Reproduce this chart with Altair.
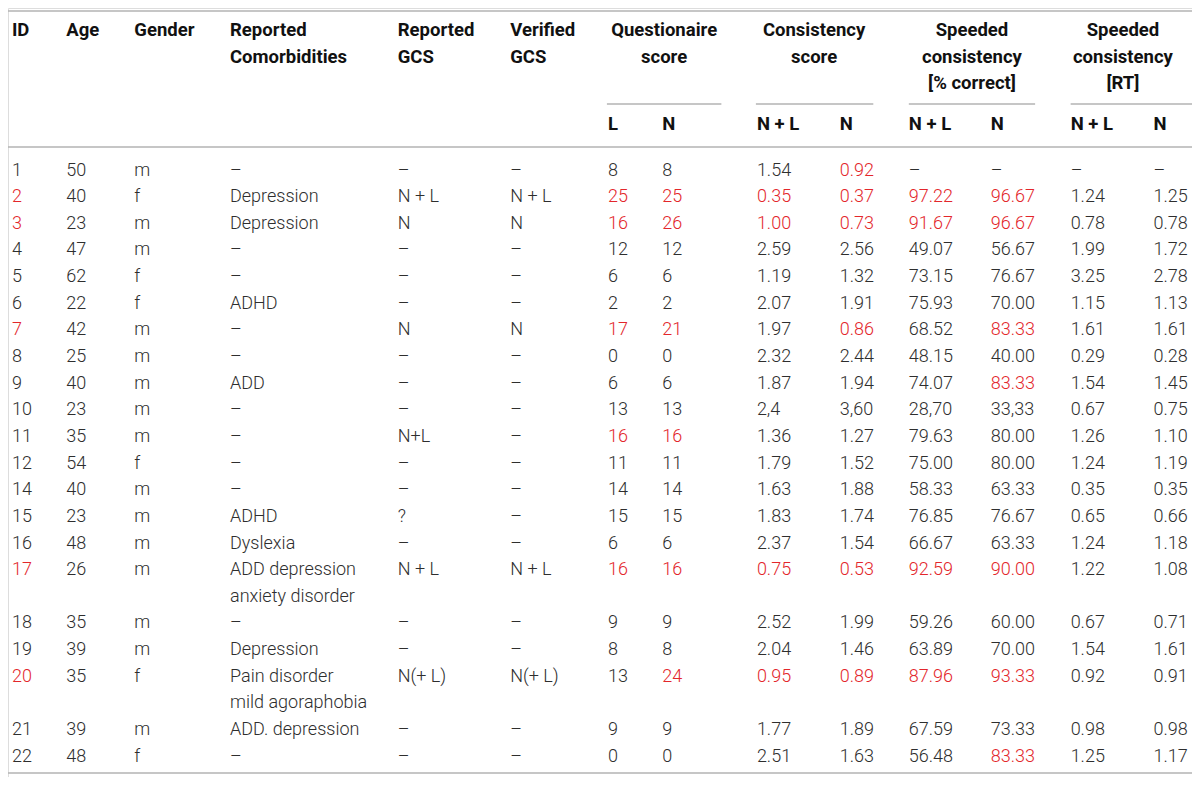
import altair as alt
import pandas as pd

# ---------------- data ----------------
ids = ["1", "2", "3", "4", "5", "6", "7", "8", "9", "10", "11", "12", "14", "15", "16",
       "17", "18", "19", "20", "21", "22"]
ages = ["50", "40", "23", "47", "62", "22", "42", "25", "40", "23", "35", "54", "40", "23",
        "48", "26", "35", "39", "35", "39", "48"]
genders = ["m", "f", "m", "m", "f", "f", "m", "m", "m", "m", "m", "f", "m", "m", "m", "m",
           "m", "m", "f", "m", "f"]
comorbidities = ["–", "Depression", "Depression", "–", "–", "ADHD", "–", "–", "ADD", "–", "–",
                 "–", "–", "ADHD", "Dyslexia", "ADD depression\nanxiety disorder", "–",
                 "Depression", "Pain disorder\nmild agoraphobia", "ADD. depression", "–"]
reported_gcs = ["–", "N + L", "N", "–", "–", "–", "N", "–", "–", "–", "N+L", "–", "–", "?",
                "–", "N + L", "–", "–", "N(+ L)", "–", "–"]
verified_gcs = ["–", "N + L", "N", "–", "–", "–", "N", "–", "–", "–", "–", "–", "–", "–",
                "–", "N + L", "–", "–", "N(+ L)", "–", "–"]
quest_L = ["8", "25", "16", "12", "6", "2", "17", "0", "6", "13", "16", "11", "14", "15", "6",
           "16", "9", "8", "13", "9", "0"]
quest_N = ["8", "25", "26", "12", "6", "2", "21", "0", "6", "13", "16", "11", "14", "15", "6",
           "16", "9", "8", "24", "9", "0"]
cons_NL = ["1.54", "0.35", "1.00", "2.59", "1.19", "2.07", "1.97", "2.32", "1.87", "2,4",
           "1.36", "1.79", "1.63", "1.83", "2.37", "0.75", "2.52", "2.04", "0.95", "1.77", "2.51"]
cons_N = ["0.92", "0.37", "0.73", "2.56", "1.32", "1.91", "0.86", "2.44", "1.94", "3,60",
          "1.27", "1.52", "1.88", "1.74", "1.54", "0.53", "1.99", "1.46", "0.89", "1.89", "1.63"]
pct_NL = ["–", "97.22", "91.67", "49.07", "73.15", "75.93", "68.52", "48.15", "74.07", "28,70",
          "79.63", "75.00", "58.33", "76.85", "66.67", "92.59", "59.26", "63.89", "87.96",
          "67.59", "56.48"]
pct_N = ["–", "96.67", "96.67", "56.67", "76.67", "70.00", "83.33", "40.00", "83.33", "33,33",
         "80.00", "80.00", "63.33", "76.67", "63.33", "90.00", "60.00", "70.00", "93.33",
         "73.33", "83.33"]
rt_NL = ["–", "1.24", "0.78", "1.99", "3.25", "1.15", "1.61", "0.29", "1.54", "0.67", "1.26",
         "1.24", "0.35", "0.65", "1.24", "1.22", "0.67", "1.54", "0.92", "0.98", "1.25"]
rt_N = ["–", "1.25", "0.78", "1.72", "2.78", "1.13", "1.61", "0.28", "1.45", "0.75", "1.10",
        "1.19", "0.35", "0.66", "1.18", "1.08", "0.71", "1.61", "0.91", "0.98", "1.17"]

# cells printed in red: column -> list of participant IDs
red_cells = {
    "id": ["2", "3", "7", "17", "20"],
    "qL": ["2", "3", "7", "11", "17"],
    "qN": ["2", "3", "7", "11", "17", "20"],
    "cNL": ["2", "3", "17", "20"],
    "cN": ["1", "2", "3", "7", "17", "20"],
    "pNL": ["2", "3", "17", "20"],
    "pN": ["2", "3", "7", "9", "17", "20", "22"],
}

header_left = ["ID", "Age", "Gender", "Reported\nComorbidities", "Reported\nGCS", "Verified\nGCS"]
header_groups = ["Questionaire\nscore", "Consistency\nscore",
                 "Speeded\nconsistency\n[% correct]", "Speeded\nconsistency\n[RT]"]
sub_headers = ["L", "N", "N + L", "N", "N + L", "N", "N + L", "N"]

# ---------------- layout (reference pixel coordinates) ----------------
col_keys = ["id", "age", "gender", "comorb", "rgcs", "vgcs", "qL", "qN", "cNL", "cN",
            "pNL", "pN", "rNL", "rN"]
col_x = [4, 59, 128, 225, 395, 509, 608, 663, 759, 843, 913, 996, 1077, 1161]
group_center_x = [665, 817, 977, 1130]
group_rule_x = [(607, 723), (758, 877), (913, 1041), (1077, 1200)]
head_line_y = [29, 56, 83]
sub_y = 125
first_row_y = 171
row_h = 27.2
RED = "#e3262b"
BODY = "#2e2e2e"
HEAD = "#111111"
RULE = "#b3b3b3"

columns = [ids, ages, genders, comorbidities, reported_gcs, verified_gcs, quest_L, quest_N,
           cons_NL, cons_N, pct_NL, pct_N, rt_NL, rt_N]

body = []
slot = 0
for r, pid in enumerate(ids):
    nlines = 1
    for key, xpos, col in zip(col_keys, col_x, columns):
        lines = col[r].split("\n")
        nlines = max(nlines, len(lines))
        color = RED if pid in red_cells.get(key, []) else BODY
        for k, t in enumerate(lines):
            body.append({"t": t, "x": xpos, "y": first_row_y + row_h * (slot + k), "c": color})
    slot += nlines
body_df = pd.DataFrame(body)

hl = []
for t, xpos in zip(header_left, col_x[:6]):
    for k, line in enumerate(t.split("\n")):
        hl.append({"t": line, "x": xpos, "y": head_line_y[k]})
for t, xpos in zip(sub_headers, col_x[6:]):
    hl.append({"t": t, "x": xpos, "y": sub_y})
hl_df = pd.DataFrame(hl)

hc = []
for t, xpos in zip(header_groups, group_center_x):
    for k, line in enumerate(t.split("\n")):
        hc.append({"t": line, "x": xpos, "y": head_line_y[k]})
hc_df = pd.DataFrame(hc)

rules = [{"x": 0, "x2": 1200, "y": 3, "w": 1.5},
         {"x": 0, "x2": 1200, "y": 142, "w": 1.5},
         {"x": 0, "x2": 1200, "y": 781, "w": 1.5}]
for a, b in group_rule_x:
    rules.append({"x": a, "x2": b, "y": 98, "w": 1.3})
rules_df = pd.DataFrame(rules)

W, H = 1184, 769
xs = alt.Scale(domain=[0, 1200], range=[0, W], nice=False, zero=False)
ys = alt.Scale(domain=[0, 785], range=[0, H], nice=False, zero=False)

rule_layer = alt.Chart(rules_df).mark_rule(color=RULE).encode(
    x=alt.X("x:Q", scale=xs, axis=None),
    x2="x2:Q",
    y=alt.Y("y:Q", scale=ys, axis=None),
    strokeWidth=alt.StrokeWidth("w:Q", scale=None),
)

body_layer = alt.Chart(body_df).mark_text(
    align="left", baseline="alphabetic", font="Roboto", fontSize=18, fontWeight=300
).encode(
    x=alt.X("x:Q", scale=xs, axis=None),
    y=alt.Y("y:Q", scale=ys, axis=None),
    text="t:N",
    color=alt.Color("c:N", scale=None),
)

hl_layer = alt.Chart(hl_df).mark_text(
    align="left", baseline="alphabetic", font="Roboto", fontSize=18.5, fontWeight="bold",
    color=HEAD
).encode(
    x=alt.X("x:Q", scale=xs, axis=None),
    y=alt.Y("y:Q", scale=ys, axis=None),
    text="t:N",
)

hc_layer = alt.Chart(hc_df).mark_text(
    align="center", baseline="alphabetic", font="Roboto", fontSize=18.5, fontWeight="bold",
    color=HEAD
).encode(
    x=alt.X("x:Q", scale=xs, axis=None),
    y=alt.Y("y:Q", scale=ys, axis=None),
    text="t:N",
)

chart = alt.layer(rule_layer, body_layer, hl_layer, hc_layer).properties(
    width=W, height=H, padding=0, autosize="none"
).configure_view(stroke=None).configure(background="white")

chart.save("out.html", embed_options={"renderer": "svg", "actions": False})
